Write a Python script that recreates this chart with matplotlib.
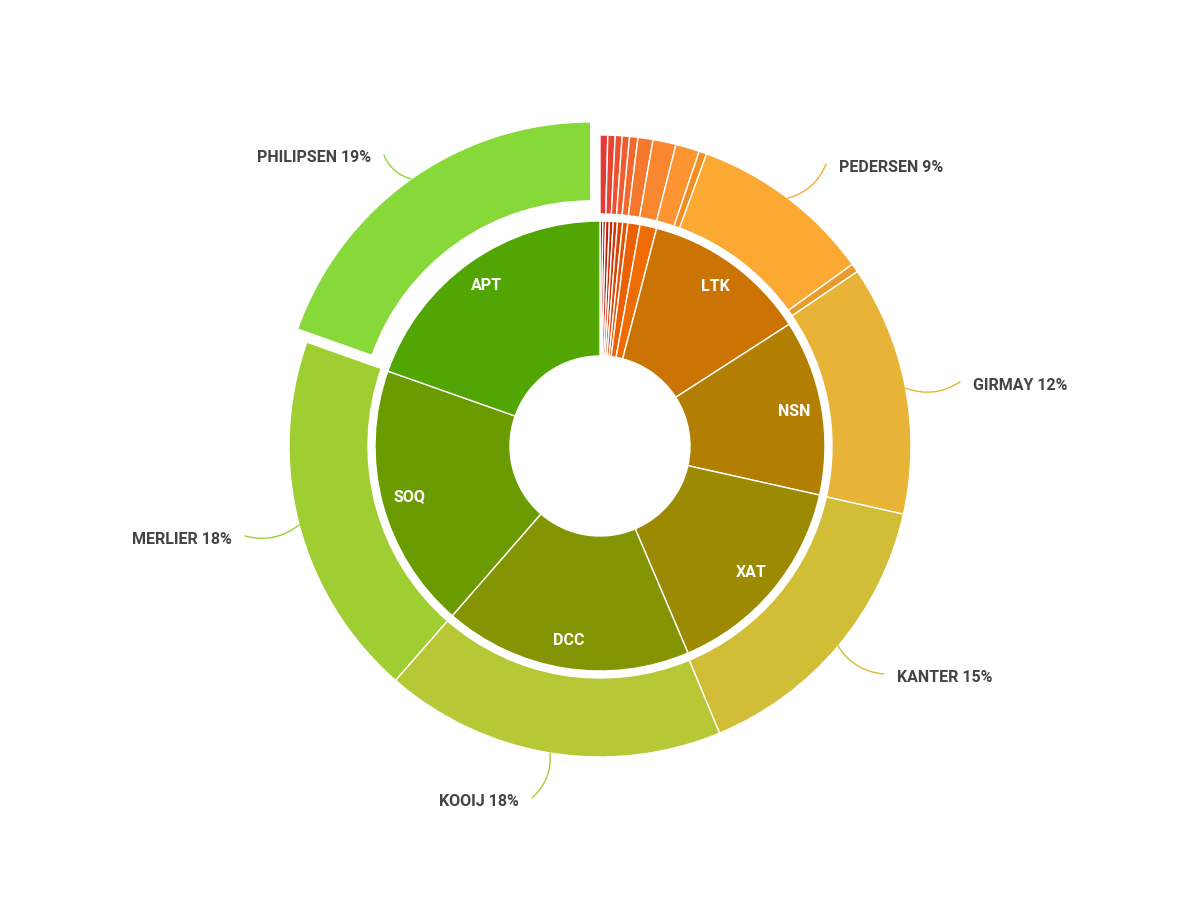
import numpy as np
import matplotlib.pyplot as plt

# Anillo interior: equipos (porcentaje del total)
equipos = ["", "", "", "", "", "", "", "", "", "LTK", "NSN", "XAT", "DCC", "SOQ", "APT"]
pct_equipos = [0.2, 0.2, 0.27, 0.27, 0.3, 0.37, 0.37, 0.87, 1.2, 11.85, 12.6, 15.1, 17.8, 19.0, 19.6]
col_equipos = ["#a00c0c", "#ad1409", "#b91e08", "#c42906", "#cf3605", "#d94404", "#e25203",
               "#ea6002", "#ef6c02", "#cc7403", "#b37f03", "#9b8a02", "#849402", "#6a9c02", "#52a603"]

# Anillo exterior: corredores
corredores = ["", "", "", "", "", "", "", "", "", "PEDERSEN 9%", "", "GIRMAY 12%", "KANTER 15%",
              "KOOIJ 18%", "MERLIER 18%", "PHILIPSEN 19%"]
pct_corredores = [0.40, 0.38, 0.36, 0.38, 0.43, 0.78, 1.20, 1.24, 0.40, 9.5, 0.45, 13.0, 15.2,
                  17.7, 19.0, 19.58]
col_corredores = ["#e33a36", "#e8452f", "#ec502e", "#ef5c2f", "#f2692e", "#f5782f", "#f8872f",
                  "#fb9431", "#f28d22", "#fca934", "#e99b2a", "#e8b437", "#d1be36", "#b7c735",
                  "#9fce33", "#86d938"]
separar = [0] * 15 + [16]

# posicion (pixeles, y hacia abajo) del extremo del conector junto al texto
pos_etiquetas = {
    "PEDERSEN 9%": (826, 164, "left"),
    "GIRMAY 12%": (960, 382, "left"),
    "KANTER 15%": (884, 674, "left"),
    "KOOIJ 18%": (532, 798, "right"),
    "MERLIER 18%": (245, 536, "right"),
    "PHILIPSEN 19%": (384, 155, "right"),
}

W, H = 1200, 900
cx, cy = 600, H - 446
r_ext, r_ext_in = 311, 232
r_int, r_hueco = 225, 90

fig = plt.figure(figsize=(12, 9), dpi=100)
ax = fig.add_axes([0, 0, 1, 1])

ax.pie(pct_equipos, colors=col_equipos, radius=r_int, center=(cx, cy), startangle=90,
       counterclock=False, wedgeprops=dict(width=r_int - r_hueco, edgecolor="white", linewidth=1))
ax.pie(pct_corredores, colors=col_corredores, radius=r_ext, center=(cx, cy), startangle=90,
       counterclock=False, explode=separar,
       wedgeprops=dict(width=r_ext - r_ext_in, edgecolor="white", linewidth=1))

# Etiquetas internas
acum = np.cumsum([0] + pct_equipos)
for i, nombre in enumerate(equipos):
    if not nombre:
        continue
    ang = np.radians((acum[i] + acum[i + 1]) / 2 * 3.6)
    ax.text(cx + 197 * np.sin(ang), cy + 197 * np.cos(ang), nombre, color="white",
            fontsize=11.5, fontweight="bold", family="Roboto", ha="center", va="center")

# Etiquetas externas con conectores
acum = np.cumsum([0] + pct_corredores)
for i, nombre in enumerate(corredores):
    if not nombre:
        continue
    ang = np.radians((acum[i] + acum[i + 1]) / 2 * 3.6)
    dx, dy = np.sin(ang), np.cos(ang)
    ox, oy = cx + separar[i] * dx, cy + separar[i] * dy
    borde = (ox + r_ext * dx, oy + r_ext * dy)
    px, py, lado = pos_etiquetas[nombre]
    ancla = (px, H - py)
    rad = -0.25 if lado == "left" else 0.25
    ax.annotate("", xy=borde, xytext=ancla,
                arrowprops=dict(arrowstyle="-", color=col_corredores[i], lw=1,
                                shrinkA=0, shrinkB=0, connectionstyle=f"arc3,rad={rad}"))
    tx = px + (13 if lado == "left" else -13)
    ax.text(tx, H - py - 3, nombre, color="#444444", fontsize=11.5, fontweight="bold",
            family="Roboto", ha=lado, va="center")

ax.set_xlim(0, W)
ax.set_ylim(0, H)
ax.set_aspect("equal")
ax.axis("off")

fig.savefig("out.png", dpi=100, facecolor="white")
